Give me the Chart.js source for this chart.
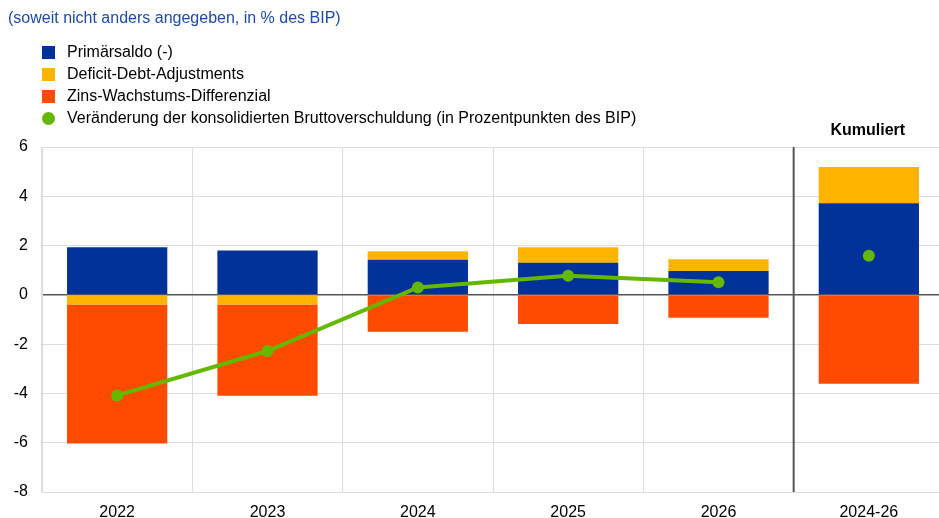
<!DOCTYPE html>
<html><head><meta charset="utf-8">
<script src="https://cdn.jsdelivr.net/npm/chart.js@4/dist/chart.umd.min.js"></script>
<style>html,body{margin:0;padding:0;background:#fff;overflow:hidden}#wrap{width:939px;height:518px;position:relative;overflow:hidden}</style>
</head><body><div id="wrap"><canvas id="c" width="950" height="518"></canvas></div>
<script>
const categories = ['2022','2023','2024','2025','2026','2024-26'];
const primarsaldo = [1.93, 1.80, 1.42, 1.30, 0.97, 3.72];
const deficitDebtAdj = [-0.39, -0.39, 0.35, 0.63, 0.48, 1.47];
const zinsWachstum = [-5.64, -3.70, -1.50, -1.18, -0.93, -3.61];
const schuldenVeraenderung = [-4.08, -2.28, 0.30, 0.78, 0.51, 1.59];
const seriesNames = ['Primärsaldo (-)','Deficit-Debt-Adjustments','Zins-Wachstums-Differenzial','Veränderung der konsolidierten Bruttoverschuldung (in Prozentpunkten des BIP)'];
const yTicks = [6,4,2,0,-2,-4,-6,-8];
const titleText = '(soweit nicht anders angegeben, in % des BIP)';
const cumulLabel = 'Kumuliert';

const BLUE='#003299', YELLOW='#FFB400', ORANGE='#FF4B00', GREEN='#65B800';
const FONT='"Liberation Sans", Arial, sans-serif';

const overlay = {
  id:'overlay',
  afterDraw(chart){
    const ctx=chart.ctx;
    ctx.save();
    ctx.textBaseline='middle';
    ctx.font='16px '+FONT;
    ctx.fillStyle='#1E4BA8';
    ctx.textAlign='left';
    ctx.fillText(titleText,8,19);
    const cols=[BLUE,YELLOW,ORANGE,GREEN];
    const ys=[52,74,96,118];
    ctx.font='16px '+FONT;
    for(let i=0;i<4;i++){
      ctx.fillStyle=cols[i];
      if(i<3){ctx.fillRect(42,ys[i]-6,13,13);}
      else{ctx.beginPath();ctx.arc(48.5,ys[i]+0.5,6.5,0,Math.PI*2);ctx.fill();}
      ctx.fillStyle='#000';
      ctx.fillText(seriesNames[i],67,ys[i]+1);
    }
    const x=chart.scales.x;
    const cx=x.getPixelForValue(5);
    ctx.font='bold 16px '+FONT;
    ctx.textAlign='center';
    ctx.fillText(cumulLabel,cx-1,131);
    const sep=(x.getPixelForValue(4)+x.getPixelForValue(5))/2;
    const a=chart.chartArea;
    ctx.strokeStyle='#555';
    ctx.lineWidth=2;
    ctx.beginPath();ctx.moveTo(sep,a.top);ctx.lineTo(sep,a.bottom);ctx.stroke();
    ctx.restore();
  }
};

new Chart(document.getElementById('c'),{
  type:'bar',
  data:{labels:categories,datasets:[
    {type:'line',label:seriesNames[3],data:schuldenVeraenderung,borderColor:GREEN,backgroundColor:GREEN,borderWidth:4,pointRadius:6,pointHoverRadius:6,pointBackgroundColor:GREEN,pointBorderWidth:0,tension:0,order:0,
      segment:{borderColor:c=>c.p1DataIndex===5?'rgba(0,0,0,0)':GREEN}},
    {label:seriesNames[0],data:primarsaldo,backgroundColor:BLUE,stack:'s',order:1,barPercentage:0.667,categoryPercentage:1},
    {label:seriesNames[1],data:deficitDebtAdj,backgroundColor:YELLOW,stack:'s',order:1,barPercentage:0.667,categoryPercentage:1},
    {label:seriesNames[2],data:zinsWachstum,backgroundColor:ORANGE,stack:'s',order:1,barPercentage:0.667,categoryPercentage:1}
  ]},
  options:{
    responsive:false,animation:false,
    layout:{padding:{top:147,right:0,left:0,bottom:0}},
    plugins:{legend:{display:false},tooltip:{enabled:false}},
    scales:{
      x:{stacked:true,offset:true,
        grid:{offset:true,color:'#dddddd',lineWidth:1,drawTicks:false},
        border:{color:'#dddddd'},
        ticks:{color:'#000',font:{family:FONT,size:16},padding:11},
        afterFit:s=>{s.height=26;}},
      y:{stacked:true,min:-8,max:6,
        afterBuildTicks:s=>{s.ticks=yTicks.map(v=>({value:v}));},
        grid:{color:c=>c.tick&&c.tick.value===0?'#555555':'#dddddd',lineWidth:c=>c.tick&&c.tick.value===0?1.5:1,drawTicks:false},
        border:{color:'#dddddd'},
        ticks:{color:'#000',font:{family:FONT,size:16},padding:14},
        afterFit:s=>{s.width=42;}}
    }
  },
  plugins:[overlay]
});
</script></body></html>
